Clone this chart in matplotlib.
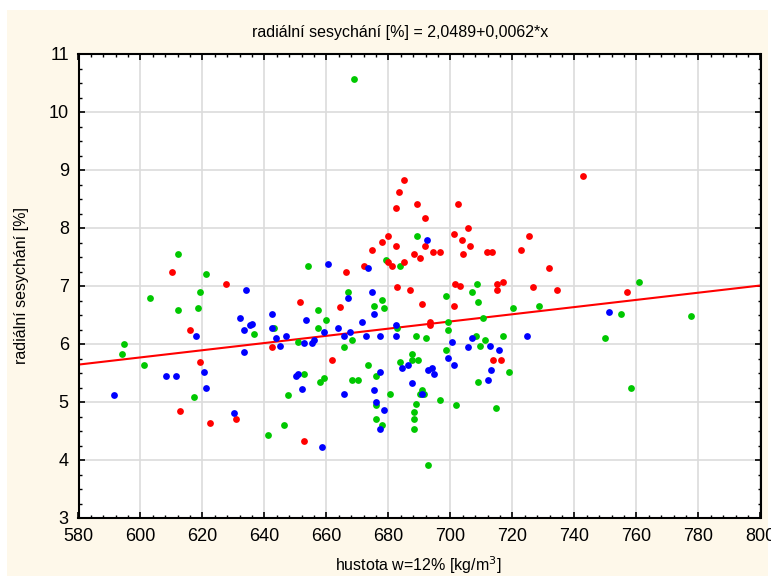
import matplotlib
matplotlib.use("Agg")
import matplotlib.pyplot as plt
from matplotlib.patches import Rectangle
from matplotlib.ticker import MultipleLocator
import numpy as np

# regression from the title
INTERCEPT = 2.0489
SLOPE = 0.0062

red_x = [610.3, 612.7, 616.0, 619.2, 622.4, 627.6, 630.8, 642.4, 651.5, 652.7,
         661.8, 664.3, 666.3, 672.1, 674.6, 677.8, 679.8, 679.9, 681.0, 682.3,
         682.3, 683.5, 684.9, 684.9, 682.9, 686.8, 688.1, 689.3, 690.1, 690.7,
         691.9, 691.9, 693.3, 693.3, 694.5, 696.5, 701.0, 701.0, 701.6, 703.0,
         702.3, 703.6, 704.1, 705.5, 706.2, 711.9, 713.3, 713.8, 715.1, 715.1,
         716.4, 717.0, 722.8, 725.2, 726.7, 731.9, 734.5, 742.8, 757.0]
red_y = [7.24, 4.84, 6.25, 5.69, 4.63, 7.03, 4.70, 5.94, 6.72, 4.32,
         5.73, 6.63, 7.24, 7.34, 7.62, 7.76, 7.86, 7.41, 7.34, 8.34,
         7.69, 8.62, 8.82, 7.41, 6.98, 6.93, 7.55, 8.41, 7.48, 6.69,
         8.17, 7.69, 6.38, 6.33, 7.59, 7.59, 7.90, 6.66, 7.03, 7.00,
         8.41, 7.79, 7.55, 8.00, 7.69, 7.59, 7.59, 5.73, 7.03, 6.93,
         5.73, 7.07, 7.62, 7.86, 6.98, 7.31, 6.93, 8.89, 6.90]

blue_x = [591.5, 608.2, 611.5, 617.9, 620.5, 621.1, 630.2, 632.1, 633.4, 633.4,
          633.9, 635.3, 636.0, 642.4, 642.4, 643.7, 645.0, 646.9, 650.2, 650.8,
          652.1, 652.7, 653.4, 655.3, 655.9, 658.5, 659.2, 660.5, 663.6, 665.5,
          665.5, 666.8, 667.5, 671.4, 672.6, 673.4, 674.6, 675.2, 675.2, 675.9,
          677.2, 677.2, 677.2, 678.5, 682.3, 682.3, 684.2, 686.2, 687.5, 690.7,
          692.5, 692.6, 693.9, 694.6, 699.1, 700.4, 701.0, 705.5, 706.8, 712.0,
          712.6, 713.2, 715.8, 724.8, 751.0]
blue_y = [5.12, 5.45, 5.45, 6.14, 5.52, 5.25, 4.81, 6.45, 6.25, 5.87,
          6.93, 6.32, 6.35, 6.52, 6.28, 6.11, 5.97, 6.14, 5.45, 5.49,
          5.22, 6.01, 6.42, 6.01, 6.07, 4.22, 6.21, 7.38, 6.28, 6.14,
          5.14, 6.79, 6.21, 6.38, 6.14, 7.31, 6.90, 6.52, 5.21, 5.00,
          6.14, 5.52, 4.53, 4.87, 6.32, 6.14, 5.59, 5.63, 5.32, 5.14,
          7.79, 5.56, 5.59, 5.49, 5.76, 6.04, 5.63, 5.94, 6.11, 5.38,
          5.97, 5.56, 5.90, 6.14, 6.56]

green_x = [594.1, 594.8, 601.2, 603.1, 612.1, 612.1, 617.3, 618.5, 619.2, 621.1,
           636.6, 641.1, 643.0, 646.3, 647.6, 650.8, 652.7, 654.0, 657.3, 657.3,
           657.9, 659.2, 659.8, 665.5, 666.8, 668.1, 668.1, 668.8, 670.1, 673.3,
           675.2, 675.9, 675.9, 675.9, 677.8, 677.8, 678.5, 679.1, 680.4, 682.9,
           683.6, 683.6, 687.5, 687.5, 688.8, 688.8, 688.1, 688.1, 688.1, 689.3,
           689.4, 690.7, 690.1, 691.3, 692.1, 692.6, 696.5, 698.4, 698.4, 699.1,
           699.1, 701.7, 706.8, 708.1, 708.6, 708.8, 708.8, 709.4, 710.5, 711.2,
           714.6, 717.0, 719.0, 720.3, 728.6, 749.9, 754.9, 758.3, 760.9, 777.6]
green_y = [5.83, 6.00, 5.63, 6.80, 7.55, 6.59, 5.08, 6.62, 6.90, 7.21,
           6.18, 4.43, 6.28, 4.60, 5.12, 6.04, 5.49, 7.34, 6.59, 6.28,
           5.35, 5.42, 6.42, 5.94, 6.90, 6.07, 5.38, 10.57, 5.38, 5.63,
           6.66, 5.45, 4.94, 4.70, 6.76, 4.60, 6.62, 7.45, 5.14, 6.28,
           7.34, 5.69, 5.83, 5.73, 6.14, 4.97, 4.83, 4.70, 4.53, 7.86,
           5.73, 5.21, 5.14, 5.14, 6.11, 3.91, 5.04, 6.83, 5.90, 6.38,
           6.25, 4.94, 6.90, 6.14, 7.03, 6.72, 5.35, 5.97, 6.45, 6.07,
           4.90, 6.14, 5.52, 6.62, 6.66, 6.11, 6.52, 5.25, 7.07, 6.49]

X_MIN, X_MAX = 580, 800
Y_MIN, Y_MAX = 3, 11

FONT = ["Liberation Sans Narrow", "Liberation Sans", "DejaVu Sans"]
plt.rcParams["font.family"] = FONT

W, H = 771, 576
fig = plt.figure(figsize=(W / 100, H / 100), dpi=100, facecolor="white")
fig.patches.append(Rectangle((7 / W, 0), (768 - 7) / W, (576 - 10) / H,
                             transform=fig.transFigure, facecolor="#FEF8EA",
                             edgecolor="none", zorder=-10))

ax = fig.add_axes([78.5 / W, 1 - 518 / H, (760.5 - 78.5) / W, (518 - 54) / H])
ax.set_facecolor("white")

line_x = np.array([X_MIN, X_MAX])
ax.plot(line_x, INTERCEPT + SLOPE * line_x, color="#FF0000", lw=1.5, zorder=2)

dot = dict(s=24, linewidths=0, zorder=3)
ax.scatter(green_x, green_y, color="#00C800", **dot)
ax.scatter(red_x, red_y, color="#FF0000", **dot)
ax.scatter(blue_x, blue_y, color="#0000FF", **dot)

ax.set_xlim(X_MIN, X_MAX)
ax.set_ylim(Y_MIN, Y_MAX)
ax.xaxis.set_major_locator(MultipleLocator(20))
ax.xaxis.set_minor_locator(MultipleLocator(4))
ax.yaxis.set_major_locator(MultipleLocator(1))
ax.yaxis.set_minor_locator(MultipleLocator(0.25))
ax.grid(True, which="major", color="#DCDCDC", lw=1.2, zorder=0)
ax.set_axisbelow(True)
ax.tick_params(which="both", direction="in", top=True, right=True,
               color="black", labelsize=13)
ax.tick_params(which="major", length=4, width=1.2, pad=7)
ax.tick_params(which="minor", length=2.5, width=1)
for sp in ax.spines.values():
    sp.set_linewidth(1.5)
    sp.set_color("black")

fig.text(400 / W, 1 - 32 / H, "radiální sesychání [%] = 2,0489+0,0062*x",
         ha="center", va="center", fontsize=11.5)
fig.text(418 / W, 1 - 565 / H, "hustota w=12% [kg/m$^3$]",
         ha="center", va="center", fontsize=11.5)
fig.text(22 / W, 1 - 286 / H, "radiální sesychání [%]", rotation=90,
         ha="center", va="center", fontsize=11.5)

fig.savefig("out.png", dpi=100, facecolor=fig.get_facecolor())
